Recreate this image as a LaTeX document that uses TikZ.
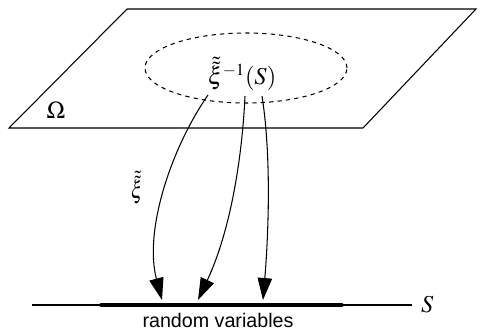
\documentclass[tikz,border=0pt]{standalone}
\usepackage{amsmath}
\usepackage{mathptmx}
\usepackage{fontspec}
\usepackage{tikz}
\usetikzlibrary{arrows.meta,positioning,calc}
\newfontfamily\rvfont{Liberation Sans}

\begin{document}
\begin{tikzpicture}[line width=0.75pt, >={Triangle[length=5.5mm,width=3.6mm]}]
    \useasboundingbox (0,0) rectangle (12,8.3);
    % Sample space Omega
    \coordinate (P1) at (3.175, 8.075);
    \coordinate (P2) at (11.9, 8.075);
    \coordinate (P3) at (9.075, 5.1);
    \coordinate (P4) at (0.225, 5.1);
    \draw (P1) -- (P2) -- (P3) -- (P4) -- cycle;
    \node (omega) at (1.4, 5.55) {\LARGE $\Omega$};

    % Preimage region
    \draw[dashed] (6.15, 6.6) ellipse (2.525cm and 0.875cm);
    \node (pre) at (6.05, 6.45) {\LARGE $\tilde{\tilde{\xi}}^{-1}(S)$};

    % Real line
    \coordinate (L0) at (0.8, 0.675);
    \coordinate (L1) at (10.3, 0.675);
    \coordinate (R0) at (2.525, 0.675);
    \coordinate (R1) at (8.55, 0.675);
    \draw (L0) -- (L1);
    \draw[line width=2.4pt, line cap=round] (R0) -- (R1);
    \node[right=0.1cm of L1] (S) {\LARGE $S$};
    \node[inner sep=0pt] (rv) at (5.45, 0.3) {\rvfont\fontsize{14}{16}\selectfont random variables};

    % Mapping arrows
    \coordinate (A1) at (5.2, 5.925);
    \coordinate (A2) at (6.125, 5.9);
    \coordinate (A3) at (6.55, 5.9);
    \coordinate (B1) at (4.05, 0.8);
    \coordinate (B2) at (4.95, 0.8);
    \coordinate (B3) at (6.575, 0.8);
    \draw[->] (A1) .. controls (4.25, 4.55) and (3.6, 2.5) .. (B1);
    \draw[->] (A2) .. controls (6.05, 4.3) and (5.75, 2.5) .. (B2);
    \draw[->] (A3) .. controls (6.8, 4.3) and (6.7, 2.3) .. (B3);
    \node[xscale=0.8] (map) at (3.425, 3.6) {\LARGE $\tilde{\tilde{\xi}}$};
\end{tikzpicture}
\end{document}
